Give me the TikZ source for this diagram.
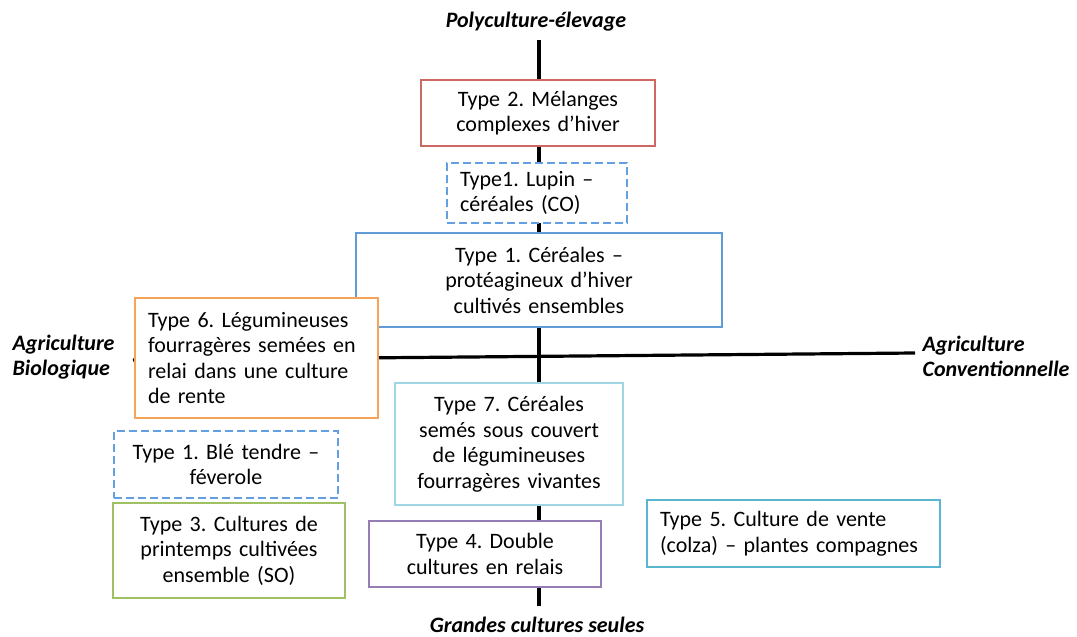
\documentclass[tikz,border=0pt]{standalone}
\usepackage{fontspec}
\setmainfont{Carlito}
\usepackage{tikz}
\frenchspacing

\definecolor{cred}{RGB}{205,105,98}
\definecolor{cblue}{RGB}{95,155,215}
\definecolor{cdash}{RGB}{100,160,225}
\definecolor{corange}{RGB}{247,163,88}
\definecolor{ccyan}{RGB}{160,214,228}
\definecolor{cgreen}{RGB}{160,192,100}
\definecolor{cpurple}{RGB}{150,125,180}
\definecolor{cteal}{RGB}{90,182,208}

\begin{document}
\begin{tikzpicture}[x=1pt,y=-1pt,line width=3.2pt,
  boxc/.style={draw,line width=2.8pt,fill=white,align=center,inner xsep=8pt,inner ysep=0pt,
    font=\fontsize{22}{25.5}\selectfont},
  boxl/.style={boxc,align=left,inner xsep=13pt},
  dashbox/.style={dash pattern=on 8pt off 4pt},
  axlabel/.style={font=\fontsize{22}{25}\selectfont\bfseries\itshape,inner sep=0pt}]
\useasboundingbox (0,0) rectangle (1077,637);

\coordinate (top) at (539,40);
\coordinate (bot) at (539,606);
\coordinate (west) at (133,360);
\coordinate (east) at (915,353);
\draw (top) -- (bot);
\draw (west) -- (east);

\node [axlabel] (poly) at (536,22) {Polyculture-élevage};
\node [axlabel] (gc) at (537,625) {Grandes cultures seules};
\node [axlabel,anchor=west,align=left] (bio) at (11,357) {Agriculture\\Biologique};
\node [axlabel,anchor=west,align=left] (conv) at (921,356) {Agriculture\\Conventionnelle};

\node [boxc,draw=cred,text width=218pt,minimum height=66pt] (t2) at (538,113)
  {Type 2. Mélanges\\complexes d’hiver};
\node [boxl,dashbox,draw=cdash,text width=154pt,minimum height=60pt] (t1l) at (537,193)
  {Type1. Lupin –\\céréales (CO)};
\node [boxc,draw=cblue,text width=350pt,minimum height=94pt] (t1) at (539,280)
  {Type 1. Céréales –\\protéagineux d’hiver\\cultivés ensembles};
\node [boxl,draw=corange,text width=217pt,minimum height=120pt] (t6) at (256.5,358)
  {Type 6. Légumineuses\\fourragères semées en\\relai dans une culture\\de rente};
\node [boxc,draw=ccyan,text width=212pt,minimum height=122pt] (t7) at (509,444)
  {Type 7. Céréales\\semés sous couvert\\de légumineuses\\fourragères vivantes};
\node [boxc,dashbox,draw=cdash,text width=208pt,minimum height=67pt] (t1b) at (226,464.5)
  {Type 1. Blé tendre –\\féverole};
\node [boxc,draw=cgreen,text width=216pt,minimum height=95pt] (t3) at (229,550.5)
  {Type 3. Cultures de\\printemps cultivées\\ensemble (SO)};
\node [boxc,draw=cpurple,text width=216pt,minimum height=66pt] (t4) at (485,554)
  {Type 4. Double\\cultures en relais};
\node [boxl,draw=cteal,text width=267pt,minimum height=67pt] (t5) at (793.5,533.5)
  {Type 5. Culture de vente\\(colza) – plantes compagnes};

\end{tikzpicture}
\end{document}
